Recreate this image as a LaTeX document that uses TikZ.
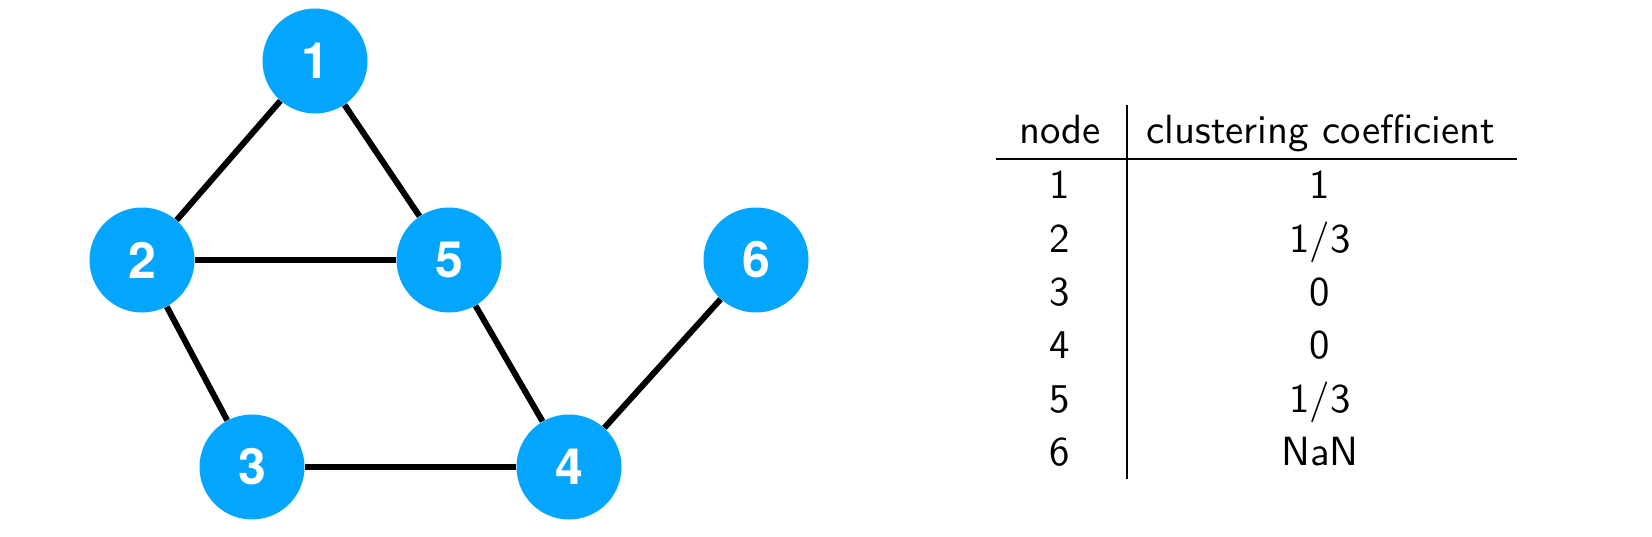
\documentclass[tikz,border=0pt]{standalone}
\usepackage{fontspec}
\usepackage{tikz}
\usepackage{xcolor}
\newfontfamily\vertexfont{TeX Gyre Heros}
\newfontfamily\tablefont[Extension=.otf]{lmsans10-regular}
\definecolor{nodeblue}{RGB}{3,165,255}

\begin{document}
\begin{tikzpicture}[x=0.5pt,y=-0.5pt,
    vertex/.style={circle, fill=nodeblue, minimum size=52.5pt, inner sep=0pt,
                   text=white, font=\vertexfont\bfseries\fontsize{25}{25}\selectfont},
    edge/.style={line width=3pt, black},
    cell/.style={anchor=base, inner sep=0pt, font=\tablefont\fontsize{20.4}{20.4}\selectfont}]
                \useasboundingbox (0,0) rectangle (1652,536);

                % graph
                \node[vertex] (v1) at (315,61) {1};
                \node[vertex] (v2) at (142,260) {2};
                \node[vertex] (v5) at (449,260) {5};
                \node[vertex] (v6) at (756,260) {6};
                \node[vertex] (v3) at (252,467) {3};
                \node[vertex] (v4) at (569,467) {4};

                \draw[edge] (v1) -- (v2);
                \draw[edge] (v1) -- (v5);
                \draw[edge] (v2) -- (v5);
                \draw[edge] (v2) -- (v3);
                \draw[edge] (v5) -- (v4);
                \draw[edge] (v3) -- (v4);
                \draw[edge] (v4) -- (v6);

                % table
                \coordinate (vtop) at (1127,105);
                \coordinate (vbot) at (1127,479);
                \coordinate (hl) at (996,159);
                \coordinate (hr) at (1517,159);
                \draw[line width=0.8pt] (vtop) -- (vbot);
                \draw[line width=0.8pt] (hl) -- (hr);

                \node[cell] (hnode) at (1060,143) {node};
                \node[cell] (hcoef) at (1321,143) {clustering coefficient};

                \node[cell] (n1) at (1060,198) {1};
                \node[cell] (c1) at (1320,198) {1};
                \node[cell] (n2) at (1060,252) {2};
                \node[cell] (c2) at (1320,252) {1/3};
                \node[cell] (n3) at (1060,305) {3};
                \node[cell] (c3) at (1320,305) {0};
                \node[cell] (n4) at (1060,358) {4};
                \node[cell] (c4) at (1320,358) {0};
                \node[cell] (n5) at (1060,412) {5};
                \node[cell] (c5) at (1320,412) {1/3};
                \node[cell] (n6) at (1060,465) {6};
                \node[cell] (c6) at (1320,465) {NaN};
            \end{tikzpicture}
\end{document}
